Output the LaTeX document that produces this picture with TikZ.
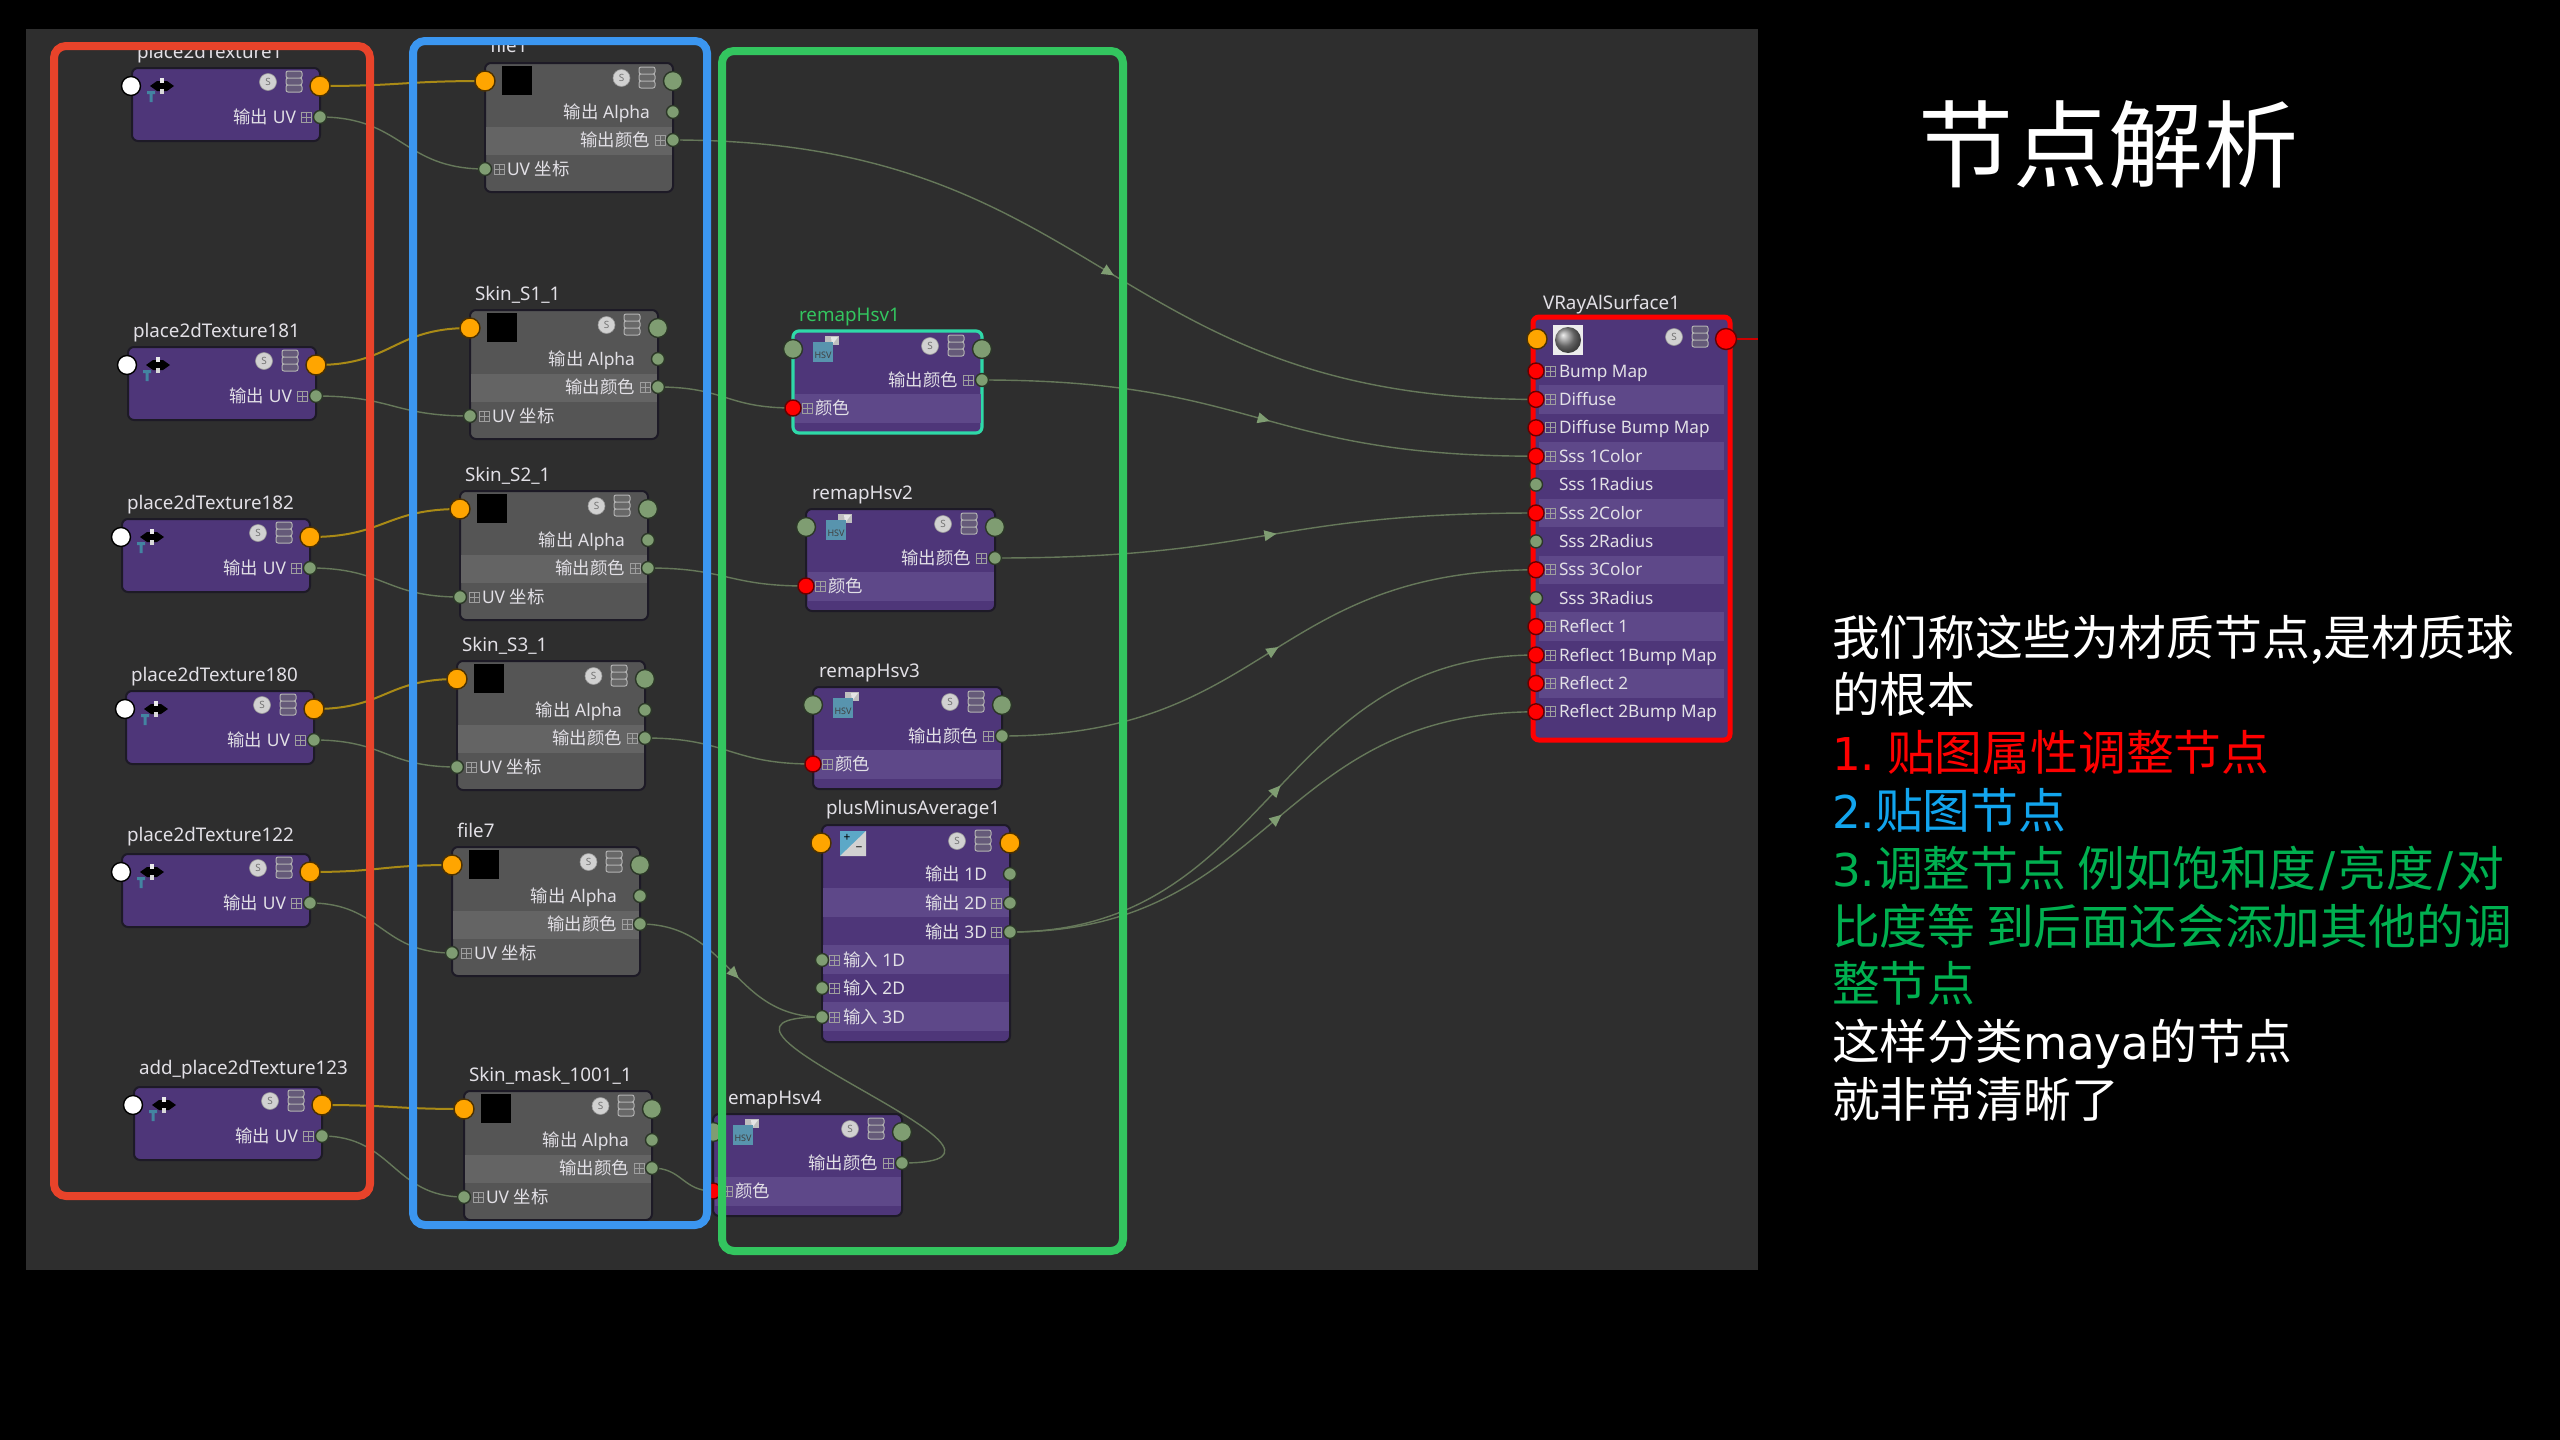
\documentclass[tikz,border=0pt]{standalone}
\usepackage{fontspec}
\setmainfont{Noto Sans}
\newfontfamily\cjk{Noto Sans CJK SC}
\newfontfamily\dvs{DejaVu Sans}
\usetikzlibrary{calc,arrows.meta,decorations.markings}
\pgfdeclarelayer{bg}\pgfdeclarelayer{edges}\pgfdeclarelayer{frames}
\pgfsetlayers{bg,edges,main,frames}
\definecolor{panel}{HTML}{2E2E2E}
\definecolor{purp}{HTML}{4E3679}
\definecolor{purpl}{HTML}{5E4889}
\definecolor{greyb}{HTML}{555555}
\definecolor{greyl}{HTML}{646464}
\definecolor{edgec}{HTML}{1D1A26}
\definecolor{portg}{HTML}{7F9D72}
\definecolor{porto}{HTML}{FFA500}
\definecolor{wireg}{HTML}{66785A}
\definecolor{wirey}{HTML}{A98A16}
\definecolor{txtc}{HTML}{E2E0E6}
\definecolor{framer}{HTML}{E8432A}
\definecolor{frameb}{HTML}{3B96F0}
\definecolor{frameg}{HTML}{33C55F}
\definecolor{sel}{HTML}{2FD9A8}
\definecolor{tblue}{HTML}{12A5EE}
\definecolor{tgreen}{HTML}{00B050}
\tikzset{
 x=.5pt,y=-.5pt,
 bodybox/.style={rectangle,rounded corners=3pt,draw=edgec,line width=1pt,inner sep=0pt,outer sep=0pt,anchor=north west,minimum width=#1},
 portbase/.style={circle,inner sep=0pt,outer sep=0pt,draw=#1,line width=.7pt},
 pbig/.style={portbase=black!65!portg,fill=portg,minimum size=9.5pt},
 psm/.style={portbase=black!65!portg,fill=portg,minimum size=6.5pt},
 porange/.style={portbase=black!70!porto,fill=porto,minimum size=10pt},
 pwhite/.style={portbase=black,fill=white,minimum size=9.5pt},
 pred/.style={portbase=black!60!red,fill=red,minimum size=8pt},
 predbig/.style={portbase=black!60!red,fill=red,minimum size=10.5pt},
 wirebase/.style={draw=#1,line width=.7pt},
 wg/.style={wirebase=wireg},
 wy/.style={wirebase=wirey,line width=1pt},
 wgm/.style={wirebase=wireg,postaction={decorate},decoration={markings,mark=at position .5 with {\fill[portg] (5.5pt,0pt)--(-.5pt,2.75pt)--(-.5pt,-2.75pt)--cycle;}}},
 nodelab/.style={anchor=base west,inner sep=0pt,outer sep=0pt,text=#1,font=\fontsize{9.4}{11}\selectfont},
 rowl/.style={anchor=base west,inner sep=0pt,outer sep=0pt,text=txtc,font=\fontsize{8.7}{11}\selectfont},
 rowr/.style={anchor=base east,inner sep=0pt,outer sep=0pt,text=txtc,font=\fontsize{8.7}{11}\selectfont},
 scirc/.style={circle,fill=black!18,draw=black!40,line width=.3pt,inner sep=0pt,minimum size=8.5pt,text=black!55,font=\fontsize{5}{5}\selectfont},
 gridic/.style={draw=black!38,line width=.35pt},
 frame/.style={draw=#1,line width=4pt,rectangle,rounded corners=6pt,inner sep=0pt,outer sep=0pt,anchor=north west},
 bigt/.style={anchor=base west,inner sep=0pt,outer sep=0pt,text=#1,font=\fontsize{23.9}{28}\selectfont},
}
\newcommand\latn{\fontsize{22.6}{28}\selectfont\dvs}
\newcommand\slashmark{\hspace{1.6pt}{\dvs /}\hspace{1.6pt}}
\newcommand\gridat[2]{\draw[gridic] (#1-5,#2-5) rectangle (#1+5,#2+5) (#1,#2-5)--(#1,#2+5) (#1-5,#2)--(#1+5,#2);}
\newcommand\stackat[2]{\draw[draw=black!30,fill=black!5!gray,fill opacity=.55,line width=.5pt,rounded corners=1pt] (#1-8,#2-11) rectangle (#1+8,#2-4) (#1-8,#2-4) rectangle (#1+8,#2+3) (#1-8,#2+3) rectangle (#1+8,#2+10);}
\newcommand\hsvicon[2]{%
 \fill[black!25] (#1+12,#2-6) rectangle (#1+26,#2+3);
 \fill[white!80!gray] (#1+18,#2-5)--(#1+25,#2-5)--(#1+19,#2+3)--cycle;
 \fill[cyan!60!black!85!white] (#1,#2) rectangle (#1+20,#2+20);
 \node[inner sep=0pt,text=black!75,font=\fontsize{4.5}{5}\selectfont\bfseries] at (#1+10,#2+13) {HSV};}
% name,x,y,label,label y
\newcommand\placenode[5]{\begin{scope}[shift={(#2,#3)}]
 \node[bodybox=94pt,minimum height=36.5pt,fill=purp] (#1) at (-188,-18) {};
 \node[nodelab=txtc] (#1-name) at (-183,#5) {#4};
 % transform icon
 \fill[black] (-170,0)--(-163,-5)--(-153,-5)--(-146,0)--(-153,5)--(-163,5)--cycle;
 \fill[white!85!gray] (-160,-8) rectangle (-156,-3);
 \fill[white!70!gray] (-160,3) rectangle (-156,8);
 \fill[cyan!60!black] (-173,5) rectangle (-165,8) (-170.5,8) rectangle (-167.5,16);
 \node[scirc] (#1-s) at (-52,-4) {S};\stackat{-26}{-4}
 \gridat{-14}{31}
 \node[rowr] (#1-t) at (-24,37) {{\cjk 输出} UV};
 \node[pwhite] (#1-m) at (-189,0) {};
 \node[porange] (#1-o) at (0,0) {};
 \node[psm] (#1-uv) at (0,31) {};
\end{scope}}
\newcommand\filenode[4]{\begin{scope}[shift={(#2,#3)}]
 \node[bodybox=94pt,minimum height=64.5pt,fill=greyb] (#1) at (0,-18) {};
 \fill[greyl] (1,46) rectangle (187,74);
 \node[nodelab=txtc] (#1-name) at (5,-28) {#4};
 \fill[black] (17,-15) rectangle (47,14);
 \node[scirc] (#1-s) at (136.5,-3) {S};\stackat{162}{-3}
 \node[rowr] (#1-ta) at (165,37) {{\cjk 输出} Alpha};
 \node[rowr] (#1-tc) at (165,65) {\cjk 输出颜色};
 \gridat{175}{59}\gridat{14}{88}
 \node[rowl] (#1-tu) at (22,94) {UV {\cjk 坐标}};
 \node[porange] (#1-o) at (0,0) {};
 \node[pbig] (#1-r) at (188,0) {};
 \node[psm] (#1-a) at (188,31) {};
 \node[psm] (#1-c) at (188,59) {};
 \node[psm] (#1-uv) at (0,88) {};
\end{scope}}
% name,x,y,label,label x,label colour,outline options
\newcommand\remapnode[7]{\begin{scope}[shift={(#2,#3)}]
 \node[bodybox=94.5pt,minimum height=51pt,fill=purp,#7] (#1) at (0,-18) {};
 \fill[purpl] (1.5,45) rectangle (187.5,74);
 \node[nodelab=#6] (#1-name) at (#5,-28) {#4};
 \hsvicon{20}{-7}
 \node[scirc] (#1-s) at (137,-3) {S};\stackat{163}{-3}
 \node[rowr] (#1-tc) at (165,37) {\cjk 输出颜色};
 \gridat{175}{31}\gridat{14}{59}
 \node[rowl] (#1-ti) at (22,65) {\cjk 颜色};
 \node[pbig] (#1-l) at (0,0) {};
 \node[pbig] (#1-r) at (189,0) {};
 \node[psm] (#1-out) at (189,31) {};
 \node[pred] (#1-in) at (0,59) {};
\end{scope}}
\newcommand\wire[3][wg]{\begin{pgfonlayer}{edges}\draw[#1] let \p1=(#2.center),\p2=(#3.center),\p3=($(\p1)!.5!(\p2)$) in (\p1) .. controls (\x3,\y1) and (\x3,\y2) .. (\p2);\end{pgfonlayer}}
\begin{document}
\begin{tikzpicture}
\useasboundingbox (0,0) rectangle (2560,1440);
\begin{pgfonlayer}{bg}
 \fill[black] (0,0) rectangle (2560,1440);
 \fill[panel] (26,29) rectangle (1758,1270);
\end{pgfonlayer}
% place2dTexture column
\placenode{pt1}{320}{86}{place2dTexture1}{-28}
\placenode{pt2}{316}{365}{place2dTexture181}{-28}
\placenode{pt3}{310}{537}{place2dTexture182}{-28}
\placenode{pt4}{314}{709}{place2dTexture180}{-28}
\placenode{pt5}{310}{872}{place2dTexture122}{-31}
\placenode{pt6}{322}{1105}{add\_place2dTexture123}{-31}
% file column
\filenode{f1}{485}{81}{file1}
\filenode{f2}{470}{328}{Skin\_S1\_1}
\filenode{f3}{460}{509}{Skin\_S2\_1}
\filenode{f4}{457}{679}{Skin\_S3\_1}
\filenode{f5}{452}{865}{file7}
\filenode{f6}{464}{1109}{Skin\_mask\_1001\_1}
% remap column
\remapnode{r1}{793}{349}{remapHsv1}{6}{frameg}{draw=sel,line width=1.6pt}
\remapnode{r2}{806}{527}{remapHsv2}{6}{txtc}{draw=edgec}
\remapnode{r3}{813}{705}{remapHsv3}{6}{txtc}{draw=edgec}
\remapnode{r4}{713}{1132}{emapHsv4}{15}{txtc}{draw=edgec}
% plusMinusAverage
\begin{scope}[shift={(822,843)}]
 \node[bodybox=94pt,minimum height=108.5pt,fill=purp] (pm) at (0,-18) {};
 \fill[purpl] (1,45) rectangle (187,74);
 \fill[purpl] (1,102) rectangle (187,131);
 \fill[purpl] (1,159) rectangle (187,188);
 \node[nodelab=txtc] (pm-name) at (4,-29) {plusMinusAverage1};
 \fill[cyan!55!gray] (18,-12) rectangle (44,13);
 \fill[black!18] (44,-12)--(44,13)--(18,13)--cycle;
 \node[inner sep=0pt,text=black,font=\fontsize{6}{6}\selectfont] (pm-ip) at (25,-5) {+};
 \node[inner sep=0pt,text=black,font=\fontsize{6}{6}\selectfont] (pm-im) at (37,6) {\textminus};
 \node[scirc] (pm-s) at (135,-2) {S};\stackat{161}{-2}
 \node[rowr] (pm-t1) at (165,37) {{\cjk 输出} 1D};
 \node[rowr] (pm-t2) at (165,66) {{\cjk 输出} 2D};
 \node[rowr] (pm-t3) at (165,95) {{\cjk 输出} 3D};
 \gridat{174}{60}\gridat{174}{89}
 \gridat{12}{117}\gridat{12}{145}\gridat{12}{174}
 \node[rowl] (pm-i1) at (21,123) {{\cjk 输入} 1D};
 \node[rowl] (pm-i2) at (21,151) {{\cjk 输入} 2D};
 \node[rowl] (pm-i3) at (21,180) {{\cjk 输入} 3D};
 \node[porange] (pm-l) at (-1,0) {};
 \node[porange] (pm-r) at (188,0) {};
 \node[psm] (pm-o1) at (188,31) {};
 \node[psm] (pm-o2) at (188,60) {};
 \node[psm] (pm-o3) at (188,89) {};
 \node[psm] (pm-n1) at (0,117) {};
 \node[psm] (pm-n2) at (0,145) {};
 \node[psm] (pm-n3) at (0,174) {};
\end{scope}
% VRay surface
\node[bodybox=98.5pt,minimum height=211.5pt,fill=purp,draw=red,line width=2.5pt] (vr) at (1533,317) {};
\node[nodelab=txtc] (vr-name) at (1543,309) {VRayAlSurface1};
\fill[white!85!gray] (1553,325) rectangle (1583,355);
\shade[ball color=black!45] (1568,340) circle (13);
\node[scirc] (vr-s) at (1674,337) {S};\stackat{1700}{337}
\foreach \t [count=\i] in {Bump Map,Diffuse,Diffuse Bump Map,Sss 1Color,Sss 1Radius,Sss 2Color,Sss 2Radius,Sss 3Color,Sss 3Radius,Reflect 1,Reflect 1Bump Map,Reflect 2,Reflect 2Bump Map}{
 \pgfmathsetmacro\yy{371+28.4*(\i-1)}
 \pgfmathparse{int(mod(\i,2))}
 \ifnum\pgfmathresult=0 \fill[purpl] (1539,\yy-14.2) rectangle (1724,\yy+14.2);\fi
 \node[rowl,font=\fontsize{8.6}{11}\selectfont] (vr-t\i) at (1559,\yy+6) {\t};
}
\foreach \i in {1,2,3,4,6,8,10,11,12,13}{
 \pgfmathsetmacro\yy{371+28.4*(\i-1)}
 \gridat{1550}{\yy}
 \node[pred] (vr-p\i) at (1536,\yy) {};
}
\foreach \i in {5,7,9}{
 \pgfmathsetmacro\yy{371+28.4*(\i-1)}
 \node[psm] (vr-p\i) at (1536,\yy) {};
}
\node[porange] (vr-l) at (1537,339) {};
\node[predbig] (vr-r) at (1726,339) {};
\coordinate (vr-end) at (1758,339);
% connectors
\foreach \a in {1,...,6}{
 \wire[wy]{pt\a-o}{f\a-o}
 \wire{pt\a-uv}{f\a-uv}
}
\wire{f2-c}{r1-in}
\wire{f3-c}{r2-in}
\wire{f4-c}{r3-in}
\wire{f6-c}{r4-in}
\wire[wgm]{f1-c}{vr-p2}
\wire[wgm]{r1-out}{vr-p4}
\wire[wgm]{r2-out}{vr-p6}
\wire[wgm]{r3-out}{vr-p8}
\wire[wgm]{pm-o3}{vr-p11}
\wire[wgm]{pm-o3}{vr-p13}
\wire[wgm]{f5-c}{pm-n3}
\begin{pgfonlayer}{edges}
 \draw[wg] (r4-out.center) .. controls +(175,0) and ($(pm-n3.center)+(-175,0)$) .. (pm-n3.center);
 \draw[draw=red!80!black,line width=.8pt] (vr-r.center) -- (vr-end);
\end{pgfonlayer}
% grouping frames
\begin{pgfonlayer}{frames}
 \node[frame=framer,minimum width=158pt,minimum height=575pt] (fr) at (54,46) {};
 \node[frame=frameb,minimum width=147pt,minimum height=592pt] (fb) at (413,41) {};
 \node[frame=frameg,minimum width=200.5pt,minimum height=600pt] (fg) at (722,51) {};
\end{pgfonlayer}
% right-hand text
\node[anchor=base west,inner sep=0pt,text=white,font=\fontsize{47.5}{50}\selectfont\cjk] (title) at (1918,180) {节点解析};
\node[bigt=white] (l1) at (1832,655) {{\cjk 我们称这些为材质节点,是材质球}};
\node[bigt=white] (l2) at (1832,712.8) {\cjk 的根本};
\node[bigt=red] (l3) at (1832,770.6) {{\latn 1.}\hspace{6pt}{\cjk 贴图属性调整节点}};
\node[bigt=tblue] (l4) at (1832,828.4) {{\latn 2.}{\cjk 贴图节点}};
\node[bigt=tgreen] (l5) at (1832,886.2) {{\latn 3.}{\cjk 调整节点 例如饱和度}\slashmark{\cjk 亮度}\slashmark{\cjk 对}};
\node[bigt=tgreen] (l6) at (1832,944) {\cjk 比度等 到后面还会添加其他的调};
\node[bigt=tgreen] (l7) at (1832,1001.8) {\cjk 整节点};
\node[bigt=white] (l8) at (1832,1059.6) {{\cjk 这样分类}{\latn maya}{\cjk 的节点}};
\node[bigt=white] (l9) at (1832,1117.4) {\cjk 就非常清晰了};
\end{tikzpicture}
\end{document}
